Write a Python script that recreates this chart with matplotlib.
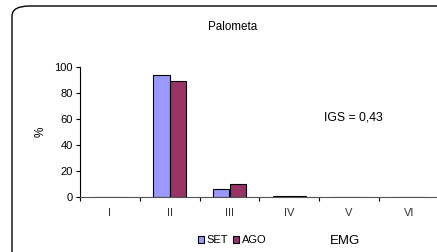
import matplotlib.pyplot as plt
import numpy as np
from matplotlib.patches import FancyBboxPatch

plt.rcParams['font.family'] = ['Liberation Sans', 'DejaVu Sans']

categories = ["I", "II", "III", "IV", "V", "VI"]
set_vals = [0, 93.5, 6, 1, 0, 0]
ago_vals = [0, 89.3, 10.2, 1, 0, 0]

fig = plt.figure(figsize=(4.37, 2.52), dpi=100)

# rounded frame around the chart (cut off at right/bottom like the source)
frame = FancyBboxPatch((12/437, -0.2), 1.2, 1 - 6/252 + 0.2,
                       boxstyle="round,pad=0,rounding_size=0.04",
                       transform=fig.transFigure, fill=False,
                       edgecolor="black", linewidth=1.0)
fig.patches.append(frame)

ax = fig.add_axes([80/437, 1 - 197/252, 6*59.8/437, (197 - 66.7)/252])
x = np.arange(len(categories))
w = 0.28
ax.bar(x - w/2, set_vals, w, color="#9999FF", edgecolor="black", linewidth=0.8, label="SET")
ax.bar(x + w/2, ago_vals, w, color="#993366", edgecolor="black", linewidth=0.8, label="AGO")

ax.set_xlim(-0.5, len(categories) - 0.5)
ax.set_ylim(0, 100)
ax.set_yticks([0, 20, 40, 60, 80, 100])
ax.set_xticks(x)
ax.set_xticklabels(categories)
ax.set_xticks(np.arange(-0.5, len(categories), 1), minor=True)
ax.tick_params(axis="x", which="major", length=0, pad=8, labelsize=8, labelcolor="#333333")
ax.tick_params(axis="x", which="minor", length=3, direction="out", width=0.8)
ax.tick_params(axis="y", length=3, width=0.8, labelsize=8, pad=2)
for s in ["top", "right"]:
    ax.spines[s].set_visible(False)
ax.spines["bottom"].set_color("#555555")
ax.spines["left"].set_linewidth(0.8)

ax.set_ylabel("%", fontsize=8.5, labelpad=6)
fig.text(233/437, 1 - 27/252, "Palometa", ha="center", va="center", fontsize=8.4)
fig.text(324/437, 1 - 118/252, "IGS = 0,43", ha="left", va="center", fontsize=8.8)
fig.text(345/437, 1 - 241/252, "EMG", ha="center", va="center", fontsize=9.5)

fig.legend(loc="center", bbox_to_anchor=(232/437, 1 - 240/252), ncol=2, frameon=False,
           fontsize=8, handlelength=0.6, handleheight=0.6, handletextpad=0.2,
           columnspacing=0.4, borderpad=0)

fig.savefig("out.png", dpi=100)
